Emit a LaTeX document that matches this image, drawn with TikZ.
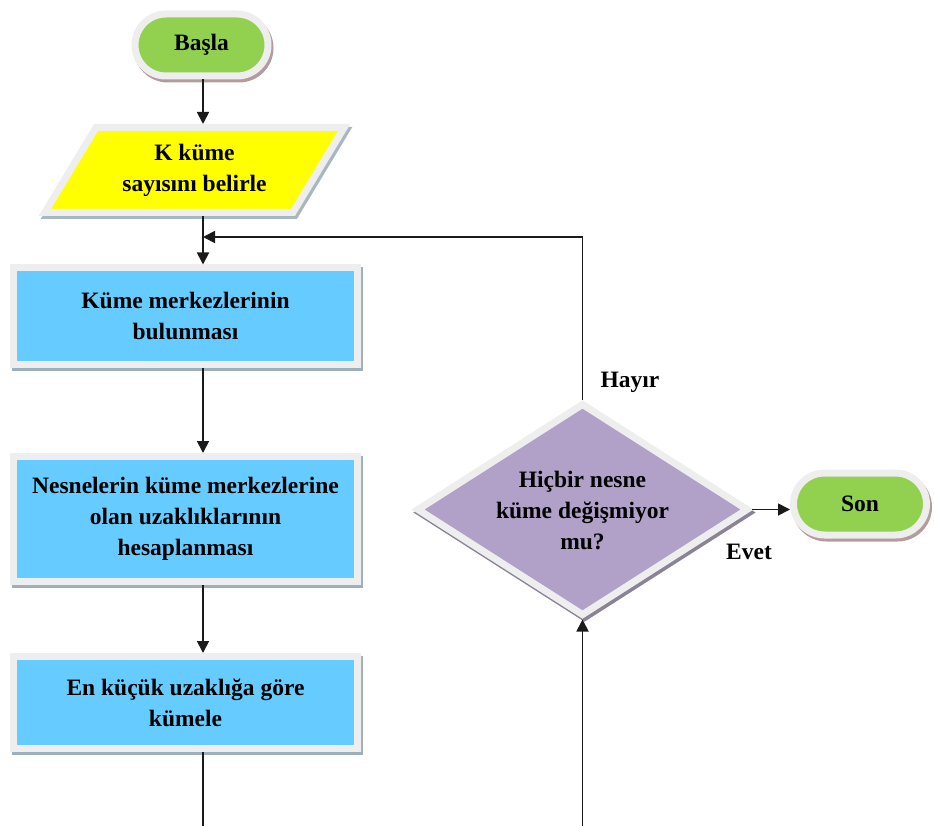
\documentclass[tikz,border=0pt]{standalone}
\usepackage{fontspec}
\setmainfont{Liberation Serif}
\usetikzlibrary{shapes.geometric,shapes.misc,arrows.meta}
\definecolor{cgreen}{HTML}{92D050}
\definecolor{cyellow}{HTML}{FFFF00}
\definecolor{cblue}{HTML}{66CCFF}
\definecolor{cpurple}{HTML}{B1A0C7}
\definecolor{brd}{HTML}{EEEEEE}
\definecolor{shgreen}{HTML}{B59C9C}
\definecolor{shyellow}{HTML}{A8B8C2}
\definecolor{shblue}{HTML}{9DB1BD}
\definecolor{shpurple}{HTML}{8A8396}
\definecolor{ink}{HTML}{1A1A1A}
\tikzset{
  shp/.style={draw=brd, line width=7pt,
    preaction={fill=#1, draw=#1, line width=7pt, transform canvas={shift={(2pt,-3pt)}}}},
  txt/.style={font=\fontsize{23.5}{31}\selectfont\bfseries, text=black, align=center, inner sep=1pt},
  term/.style={rounded rectangle, shp=shgreen, fill=cgreen, txt, minimum width=135pt, minimum height=62pt},
  para/.style={trapezium, trapezium left angle=55, trapezium right angle=125, trapezium stretches=true,
    shp=shyellow, fill=cyellow, txt, minimum width=300pt, minimum height=85pt},
  procbox/.style={rectangle, shp=shblue, fill=cblue, txt, minimum width=344pt},
  dec/.style={diamond, shp=shpurple, fill=cpurple, minimum width=332pt, minimum height=213pt, inner sep=0pt},
  ln/.style={line width=1.8pt, draw=ink},
  arr/.style={ln, -{Triangle[length=12pt,width=12pt]}},
}
\begin{document}
\begin{tikzpicture}[x=1pt,y=-1pt]
\useasboundingbox (0,0) rectangle (934,826);
\coordinate (spine) at (203,0);
\node[term] (basla) at (201.5,45) {Başla};
\node[para] (kb) at (194.5,170) {K küme\\sayısını belirle};
\node[procbox, minimum height=96pt] (r1) at (185.5,316) {Küme merkezlerinin\\bulunması};
\node[procbox, minimum height=125pt] (r2) at (185.5,519) {Nesnelerin küme merkezlerine\\olan uzaklıklarının\\hesaplanması};
\node[procbox, minimum height=92pt] (r3) at (185.5,702.5) {En küçük uzaklığa göre\\kümele};
\node[dec] (d) at (582.5,509.5) {};
\node[txt] (dt) at (582.5,511) {Hiçbir nesne\\küme değişmiyor\\mu?};
\node[term] (son) at (860,504) {Son};
\node[txt] (hayir) at (630,382) {Hayır};
\node[txt] (evet) at (749,552) {Evet};
\coordinate (m) at (203,237);
\coordinate (bl) at (203,826);
\coordinate (br) at (582.5,826);
\draw[arr] (basla.south -| spine) -- (kb.north -| spine);
\draw[arr] (kb.south -| spine) -- (r1.north -| spine);
\draw[arr] (r1.south -| spine) -- (r2.north -| spine);
\draw[arr] (r2.south -| spine) -- (r3.north -| spine);
\draw[ln] (r3.south -| spine) -- (bl);
\draw[arr] (d.north) |- (m);
\draw[arr] (d.east) -- (d.east -| son.west);
\draw[arr] (br) -- (d.south);
\end{tikzpicture}
\end{document}
